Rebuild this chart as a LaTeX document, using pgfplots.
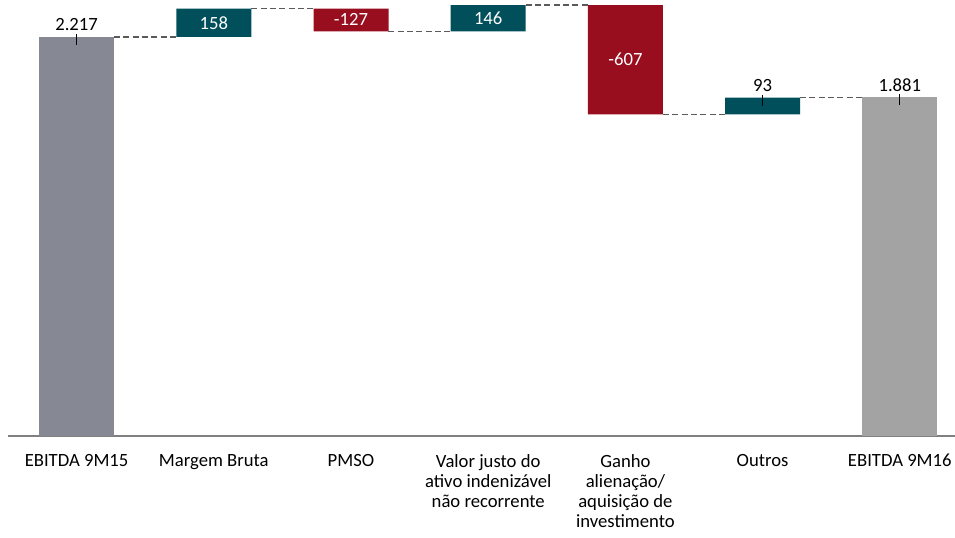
\documentclass[border=0pt]{standalone}
\usepackage{pgfplots}
\pgfplotsset{compat=1.18}
\usepackage{fontspec}
\setmainfont{Carlito}
\definecolor{cgrayA}{RGB}{134,136,148}
\definecolor{cgrayB}{RGB}{163,163,163}
\definecolor{cteal}{RGB}{0,79,90}
\definecolor{cred}{RGB}{152,14,31}
\definecolor{caxis}{RGB}{128,128,128}
\definecolor{cdash}{RGB}{90,90,90}
\pgfplotsset{common/.style={
  at={(0,0)}, anchor=south west, scale only axis,
  x=102.9pt, y=0.135pt,
  xmin=-0.5, xmax=6.41, ymin=0, ymax=2422,
  clip=false,
},
conn/.style={draw=cdash, line width=1.2pt, dash pattern=on 4.5pt off 2.5pt, mark=none},
lead/.style={draw=black, line width=0.75pt, mark=none}}
\begin{document}
\begin{tikzpicture}[x=1pt,y=1pt]
\useasboundingbox (-6,-75.75) rectangle (710.25,327);
\begin{axis}[common,
  ybar stacked, bar width=56.25pt,
  axis y line=none, axis x line*=bottom,
  x axis line style={draw=caxis, line width=0.8pt, -},
  xtick={0,1,2,3,4,5,6},
  xticklabels={EBITDA 9M15, Margem Bruta, PMSO, {Valor justo do\\ativo indenizável\\não recorrente}, {Ganho\\alienação/\\aquisição de\\investimento}, Outros, EBITDA 9M16},
  major tick length=0pt,
  xticklabel style={align=center, font=\fontsize{14}{15.2}\selectfont, yshift=-10pt},
]
\addplot[draw=none, fill=none] coordinates {(0,0) (1,2217) (2,2248) (3,2248) (4,1787) (5,1787) (6,0)};
\addplot[draw=none, fill=cgrayA] coordinates {(0,2217) (1,0) (2,0) (3,0) (4,0) (5,0) (6,0)};
\addplot[draw=none, fill=cteal] coordinates {(0,0) (1,158) (2,0) (3,146) (4,0) (5,93) (6,0)};
\addplot[draw=none, fill=cred] coordinates {(0,0) (1,0) (2,127) (3,0) (4,607) (5,0) (6,0)};
\addplot[draw=none, fill=cgrayB] coordinates {(0,0) (1,0) (2,0) (3,0) (4,0) (5,0) (6,1881)};
\end{axis}
\begin{axis}[common, hide axis]
\addplot[conn] coordinates {(0.273,2217) (0.727,2217)};
\addplot[conn] coordinates {(1.273,2375) (1.727,2375)};
\addplot[conn] coordinates {(2.273,2248) (2.727,2248)};
\addplot[conn] coordinates {(3.273,2394) (3.727,2394)};
\addplot[conn] coordinates {(4.273,1787) (4.727,1787)};
\addplot[conn] coordinates {(5.273,1880) (5.727,1880)};
\addplot[lead] coordinates {(0,2234) (0,2173)};
\addplot[lead] coordinates {(5,1897) (5,1836)};
\addplot[lead] coordinates {(6,1898) (6,1837)};
\node[anchor=base, yshift=4.5pt, font=\fontsize{14}{16}\selectfont] at (axis cs:0,2217) {2.217};
\node[anchor=base, yshift=4.5pt, font=\fontsize{14}{16}\selectfont] at (axis cs:5,1880) {93};
\node[anchor=base, yshift=4.5pt, font=\fontsize{14}{16}\selectfont] at (axis cs:6,1881) {1.881};
\node[white, font=\fontsize{14}{16}\selectfont] at (axis cs:1,2296) {158};
\node[white, font=\fontsize{14}{16}\selectfont] at (axis cs:2,2311.5) {-127};
\node[white, font=\fontsize{14}{16}\selectfont] at (axis cs:3,2321) {146};
\node[white, font=\fontsize{14}{16}\selectfont] at (axis cs:4,2090.5) {-607};
\end{axis}
\end{tikzpicture}
\end{document}
